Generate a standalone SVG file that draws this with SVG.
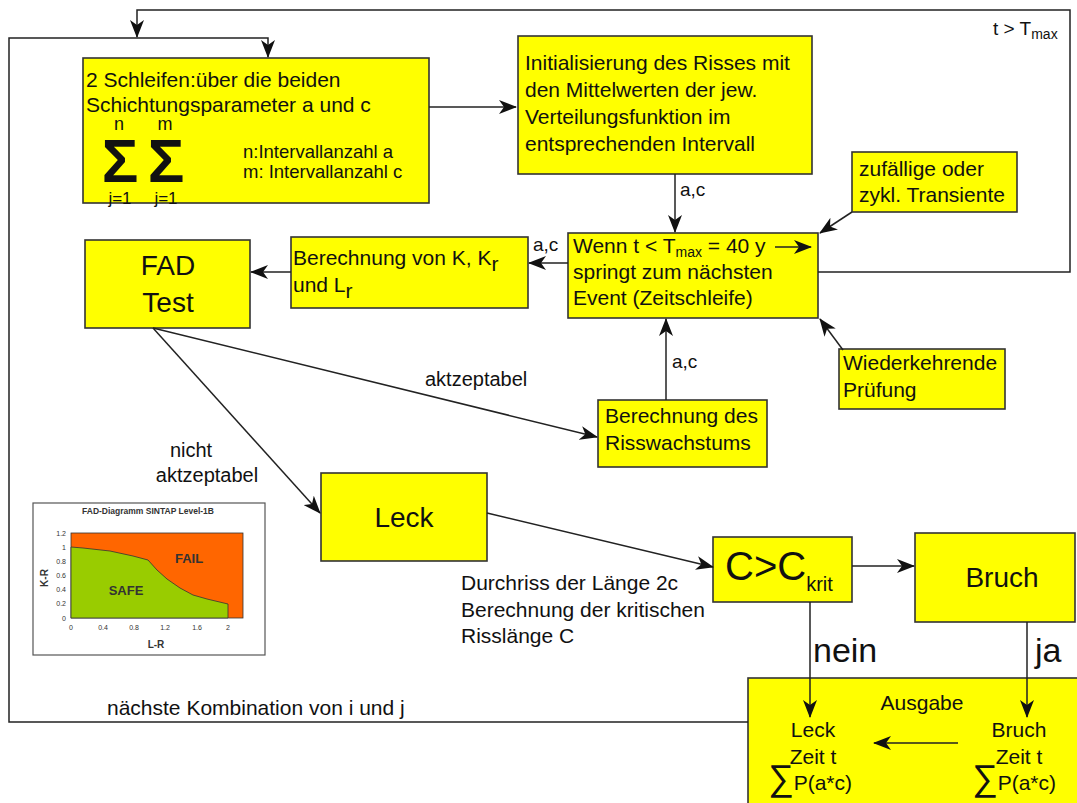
<svg xmlns="http://www.w3.org/2000/svg" width="1077" height="803" viewBox="0 0 1077 803">
<defs>
<style>
.box{fill:#ffff00;stroke:#333;stroke-width:1.6}
.t{font-family:"Liberation Sans",Arial,sans-serif;fill:#111;font-size:21px}
.s{font-size:14px}
.ln{fill:none;stroke:#222;stroke-width:1.5}
.ch{font-family:"Liberation Sans",Arial,sans-serif;fill:#333}
</style>
<marker id="ah" markerUnits="userSpaceOnUse" markerWidth="18" markerHeight="14" refX="17" refY="7" orient="auto">
<path d="M0,0 L18,7 L0,14 L5,7 z" fill="#111"/>
</marker>
</defs>
<rect width="1077" height="803" fill="#fff"/>

<g id="schleifen">
<rect class="box" x="83" y="58" width="346" height="145"/>
<text class="t" x="86" y="87">2 Schleifen:über die beiden</text>
<text class="t" x="86" y="112">Schichtungsparameter a und c</text>
<text class="t" x="119" y="130" text-anchor="middle" style="font-size:18px">n</text>
<text class="t" x="165" y="130" text-anchor="middle" style="font-size:18px">m</text>
<text class="t" x="120" y="182" text-anchor="middle" font-weight="bold" style="font-size:61px">Σ</text>
<text class="t" x="166" y="182" text-anchor="middle" font-weight="bold" style="font-size:61px">Σ</text>
<text class="t" x="120" y="204" text-anchor="middle" style="font-size:17px">j=1</text>
<text class="t" x="166" y="204" text-anchor="middle" style="font-size:17px">j=1</text>
<text class="t" x="243" y="158" style="font-size:18.5px">n:Intervallanzahl a</text>
<text class="t" x="243" y="178" style="font-size:18.5px">m: Intervallanzahl c</text>
</g>

<g id="init">
<rect class="box" x="518" y="36" width="294" height="138"/>
<text class="t" x="525" y="70">Initialisierung des Risses mit</text>
<text class="t" x="525" y="97">den Mittelwerten der jew.</text>
<text class="t" x="525" y="124">Verteilungsfunktion im</text>
<text class="t" x="525" y="151">entsprechenden Intervall</text>
</g>

<g id="transiente">
<rect class="box" x="852" y="152" width="165" height="60"/>
<text class="t" x="859" y="176">zufällige oder</text>
<text class="t" x="859" y="202">zykl. Transiente</text>
</g>

<g id="wenn">
<rect class="box" x="568" y="233" width="250" height="85"/>
<text class="t" x="573" y="253">Wenn t &lt; T<tspan class="s" dy="4">max</tspan><tspan dy="-4"> = 40 y</tspan></text>
<path class="ln" d="M775,247 H811" marker-end="url(#ah)"/>
<text class="t" x="573" y="279">springt zum nächsten</text>
<text class="t" x="573" y="305">Event (Zeitschleife)</text>
</g>

<g id="berechnungK">
<rect class="box" x="291" y="237" width="237" height="71"/>
<text class="t" x="293" y="265">Berechnung von K, K<tspan dy="6">r</tspan></text>
<text class="t" x="293" y="292">und L<tspan dy="6">r</tspan></text>
</g>

<g id="fad">
<rect class="box" x="85" y="240" width="165" height="88"/>
<text class="t" x="168" y="275" text-anchor="middle" style="font-size:28px">FAD</text>
<text class="t" x="168" y="312" text-anchor="middle" style="font-size:28px">Test</text>
</g>

<g id="wiederkehrend">
<rect class="box" x="839" y="349" width="166" height="60"/>
<text class="t" x="843" y="370">Wiederkehrende</text>
<text class="t" x="843" y="397">Prüfung</text>
</g>

<g id="risswachstum">
<rect class="box" x="598" y="400" width="169" height="67"/>
<text class="t" x="605" y="423">Berechnung des</text>
<text class="t" x="605" y="450">Risswachstums</text>
</g>

<g id="leck">
<rect class="box" x="321" y="473" width="166" height="88"/>
<text class="t" x="404" y="527" text-anchor="middle" style="font-size:28px">Leck</text>
</g>

<g id="ckrit">
<rect class="box" x="713" y="537" width="139" height="65"/>
<text class="t" x="725" y="580" style="font-size:40px">C&gt;C<tspan dy="11" style="font-size:20px">krit</tspan></text>
</g>

<g id="bruch">
<rect class="box" x="915" y="533" width="160" height="89"/>
<text class="t" x="1002" y="587" text-anchor="middle" style="font-size:28px">Bruch</text>
</g>

<g id="ausgabe">
<rect class="box" x="748" y="678" width="345" height="140"/>
<text class="t" x="922" y="710" text-anchor="middle">Ausgabe</text>
<text class="t" x="813" y="737" text-anchor="middle">Leck</text>
<text class="t" x="813" y="764" text-anchor="middle">Zeit t</text>
<text class="t" x="768" y="790"><tspan style="font-size:36px">∑</tspan>P(a*c)</text>
<text class="t" x="1019" y="737" text-anchor="middle">Bruch</text>
<text class="t" x="1019" y="764" text-anchor="middle">Zeit t</text>
<text class="t" x="972" y="790"><tspan style="font-size:36px">∑</tspan>P(a*c)</text>
<path class="ln" d="M958,743 H874" marker-end="url(#ah)"/>
</g>

<g id="fad-chart">
<rect x="33" y="503" width="232" height="152" fill="#fff" stroke="#555" stroke-width="1.2"/>
<text class="ch" x="148" y="514" text-anchor="middle" font-weight="bold" font-size="8.5">FAD-Diagramm SINTAP Level-1B</text>
<rect x="71" y="533" width="172" height="85" fill="#ff6600" stroke="#333" stroke-width="0.8"/>
<polygon points="71,547 83,548 110,551 133,556 148,560 157,570 167,579 180,588 193,595 207,599 228,604 228,618 71,618" fill="#99cc00" stroke="#333" stroke-width="0.8"/>
<text class="ch" x="189" y="563" text-anchor="middle" font-weight="bold" font-size="13">FAIL</text>
<text class="ch" x="126" y="595" text-anchor="middle" font-weight="bold" font-size="13">SAFE</text>
<g class="ch" font-size="7" text-anchor="end">
<text x="66" y="536">1.2</text><text x="66" y="550">1</text><text x="66" y="564">0.8</text><text x="66" y="578">0.6</text><text x="66" y="592">0.4</text><text x="66" y="606">0.2</text><text x="66" y="621">0</text>
</g>
<g class="ch" font-size="7" text-anchor="middle">
<text x="71" y="630">0</text><text x="103" y="630">0.4</text><text x="134" y="630">0.8</text><text x="165" y="630">1.2</text><text x="197" y="630">1.6</text><text x="228" y="630">2</text>
</g>
<text class="ch" x="156" y="648" text-anchor="middle" font-weight="bold" font-size="10">L-R</text>
<text class="ch" transform="translate(48,578) rotate(-90)" text-anchor="middle" font-weight="bold" font-size="10">K-R</text>
</g>

<g id="connectors">
<path class="ln" d="M818,272 H1070 V10 H137 V37" marker-end="url(#ah)"/>
<path class="ln" d="M748,722 H9 V38 H268 V57" marker-end="url(#ah)"/>
<path class="ln" d="M429,107 H516" marker-end="url(#ah)"/>
<path class="ln" d="M675,174 V232" marker-end="url(#ah)"/>
<path class="ln" d="M666,400 V319" marker-end="url(#ah)"/>
<path class="ln" d="M568,263 H529" marker-end="url(#ah)"/>
<path class="ln" d="M291,272 H251" marker-end="url(#ah)"/>
<path class="ln" d="M852,212 L820,233" marker-end="url(#ah)"/>
<path class="ln" d="M843,350 L820,319" marker-end="url(#ah)"/>
<path class="ln" d="M153,328 L597,437" marker-end="url(#ah)"/>
<path class="ln" d="M153,328 L320,513" marker-end="url(#ah)"/>
<path class="ln" d="M487,513 L713,567" marker-end="url(#ah)"/>
<path class="ln" d="M852,566 H914" marker-end="url(#ah)"/>
<path class="ln" d="M810,602 V717" marker-end="url(#ah)"/>
<path class="ln" d="M1027,622 V717" marker-end="url(#ah)"/>
<text class="t" x="993" y="35" style="font-size:19px">t &gt; T<tspan class="s" dy="4">max</tspan></text>
<text class="t" x="680" y="196" style="font-size:19px">a,c</text>
<text class="t" x="533" y="251" style="font-size:19px">a,c</text>
<text class="t" x="672" y="368" style="font-size:19px">a,c</text>
<text class="t" x="425" y="386" style="font-size:20px">aktzeptabel</text>
<text class="t" x="191" y="457" text-anchor="middle" style="font-size:20px">nicht</text>
<text class="t" x="207" y="482" text-anchor="middle" style="font-size:20px">aktzeptabel</text>
<text class="t" x="461" y="590">Durchriss der Länge 2c</text>
<text class="t" x="461" y="617">Berechnung der kritischen</text>
<text class="t" x="461" y="643">Risslänge C</text>
<text class="t" x="813" y="662" style="font-size:34px">nein</text>
<text class="t" x="1035" y="662" style="font-size:34px">ja</text>
<text class="t" x="107" y="715">nächste Kombination von i und j</text>
</g>
</svg>
